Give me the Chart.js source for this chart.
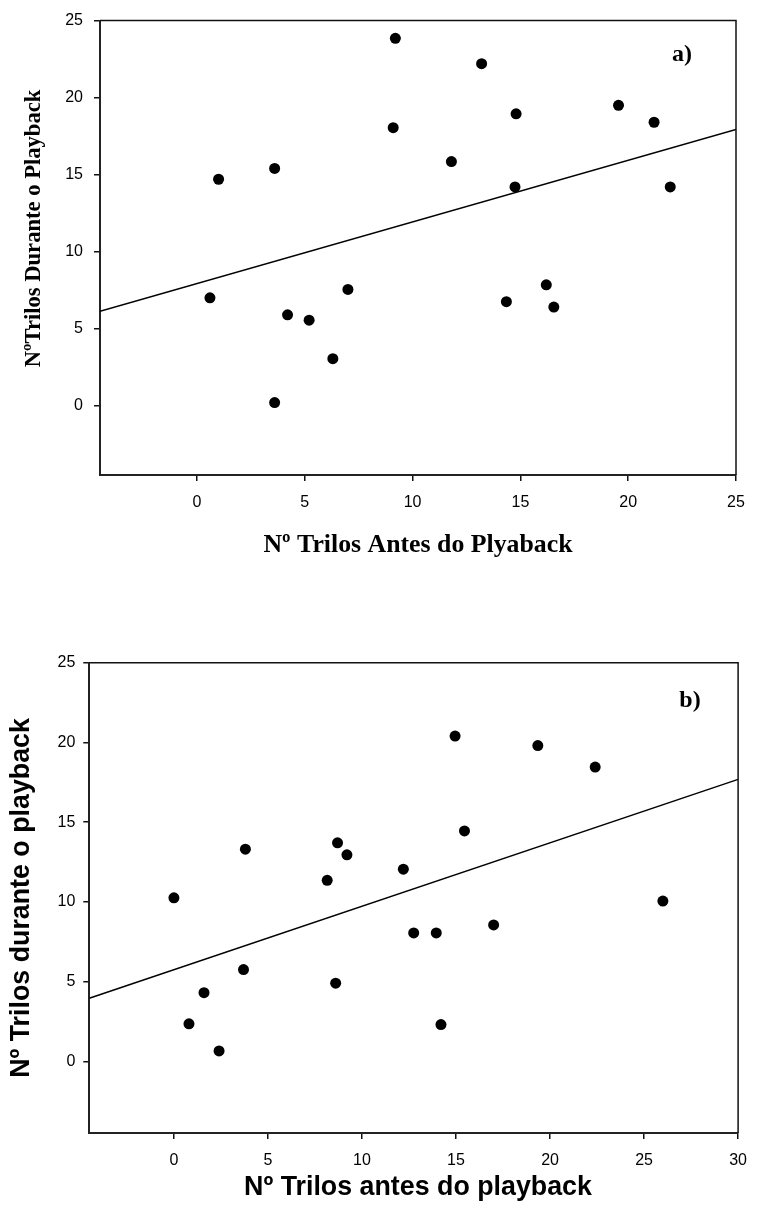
<!DOCTYPE html>
<html>
<head>
<meta charset="utf-8">
<script src="https://cdn.jsdelivr.net/npm/chart.js@4.4.1/dist/chart.umd.min.js"></script>
<style>
  html, body { margin: 0; padding: 0; background: #fff; }
  body { width: 759px; height: 1218px; position: relative; overflow: hidden; }
  canvas { position: absolute; left: 0; }
  #panelA { top: 0; }
  #panelB { top: 560px; }
</style>
</head>
<body>
<canvas id="panelA" width="759" height="560"></canvas>
<canvas id="panelB" width="759" height="658"></canvas>
<script>
// painel a)
const ticksA = [0, 5, 10, 15, 20, 25];
const antesA = [0.6, 1.0, 3.6, 3.6, 4.2, 5.2, 6.3, 7.0, 9.1, 9.2, 11.8, 13.2, 14.35, 14.75, 14.8, 16.2, 16.55, 19.55, 21.2, 21.95];
const duranteA = [7.0, 14.7, 15.4, 0.2, 5.9, 5.55, 3.05, 7.55, 18.05, 23.85, 15.85, 22.2, 6.75, 14.2, 18.95, 7.85, 6.4, 19.5, 18.4, 14.2];
const fitA = [7.93, 0.40]; // intercepto, inclinação

// painel b)
const ticksBx = [0, 5, 10, 15, 20, 25, 30];
const ticksBy = [0, 5, 10, 15, 20, 25];
const antesB = [0.0, 0.8, 1.6, 2.4, 3.7, 3.8, 8.15, 8.6, 8.7, 9.2, 12.2, 12.75, 13.95, 14.2, 14.95, 15.45, 17.0, 19.35, 22.4, 26.0];
const duranteB = [10.25, 2.35, 4.3, 0.65, 5.75, 13.3, 11.35, 4.9, 13.7, 12.95, 12.05, 8.05, 8.05, 2.3, 20.4, 14.45, 8.55, 19.8, 18.45, 10.05];
const fitB = [5.74, 0.398];

// moldura superior / direita
const frame = {
  id: 'frame',
  afterDatasetsDraw(chart) {
    const { ctx, chartArea: a } = chart;
    ctx.save();
    ctx.strokeStyle = '#111';
    ctx.lineWidth = 1.5;
    ctx.beginPath();
    ctx.moveTo(a.left, a.top);
    ctx.lineTo(a.right, a.top);
    ctx.lineTo(a.right, a.bottom);
    ctx.stroke();
    ctx.restore();
  }
};

// textos dos eixos e rótulo do painel
const panelText = {
  id: 'panelText',
  afterDraw(chart, args, opts) {
    const ctx = chart.ctx;
    (opts.items || []).forEach(t => {
      ctx.save();
      ctx.font = t.font;
      ctx.fillStyle = '#000';
      ctx.textAlign = 'center';
      ctx.textBaseline = 'middle';
      ctx.translate(t.x, t.y);
      if (t.rot) ctx.rotate(t.rot);
      ctx.fillText(t.text, 0, 0);
      ctx.restore();
    });
  }
};

function makePanel(id, cfg) {
  const pts = cfg.xs.map((x, i) => ({ x: x, y: cfg.ys[i] }));
  const line = [cfg.xMin, cfg.xMax].map(x => ({ x: x, y: cfg.fit[0] + cfg.fit[1] * x }));
  const axis = (ticks, size, pad, isX) => ({
    type: 'linear',
    min: isX ? cfg.xMin : cfg.yMin,
    max: isX ? cfg.xMax : cfg.yMax,
    afterBuildTicks: s => { s.ticks = ticks.map(v => ({ value: v })); },
    afterFit: s => { if (isX) s.height = size; else s.width = size; },
    grid: { drawOnChartArea: false, drawTicks: true, tickLength: 6, color: '#111', lineWidth: 1.5 },
    border: { display: true, color: '#222', width: 2 },
    ticks: { color: '#000', padding: pad, font: { family: 'Liberation Sans', size: 16 } }
  });
  return new Chart(document.getElementById(id), {
    type: 'scatter',
    data: {
      datasets: [
        { data: pts, pointRadius: 5.5, pointHoverRadius: 5.5, backgroundColor: '#000', borderColor: '#000', borderWidth: 0 },
        { type: 'line', data: line, borderColor: '#000', borderWidth: 1.5, pointRadius: 0, fill: false }
      ]
    },
    options: {
      responsive: false,
      animation: false,
      devicePixelRatio: 1,
      layout: { padding: cfg.padding },
      scales: {
        x: axis(cfg.xTicks, cfg.xHeight, cfg.xPad, true),
        y: axis(cfg.yTicks, cfg.yWidth, cfg.yPad, false)
      },
      plugins: {
        legend: { display: false },
        tooltip: { enabled: false },
        panelText: { items: cfg.texts }
      }
    },
    plugins: [frame, panelText]
  });
}

makePanel('panelA', {
  xs: antesA, ys: duranteA, fit: fitA,
  xMin: -4.5, xMax: 25, yMin: -4.5, yMax: 25,
  xTicks: ticksA, yTicks: ticksA,
  padding: { top: 19.5, left: 0, right: 23, bottom: 0 },
  xHeight: 85, yWidth: 100, xPad: 12, yPad: 11,
  texts: [
    { text: 'Nº Trilos Antes do Plyaback', x: 418, y: 545, font: 'bold 25.8px "Liberation Serif"' },
    { text: 'NºTrilos Durante o Playback', x: 34, y: 228.5, rot: -Math.PI / 2, font: 'bold 22.6px "Liberation Serif"' },
    { text: 'a)', x: 682, y: 55, font: 'bold 24px "Liberation Serif"' }
  ]
});

makePanel('panelB', {
  xs: antesB, ys: duranteB, fit: fitB,
  xMin: -4.5, xMax: 30, yMin: -4.5, yMax: 25,
  xTicks: ticksBx, yTicks: ticksBy,
  padding: { top: 102.7, left: 0, right: 11.7, bottom: 0 },
  xHeight: 85, yWidth: 89.3, xPad: 12, yPad: 8,
  texts: [
    { text: 'Nº Trilos antes do playback', x: 418, y: 628, font: 'bold 26.8px "Liberation Sans"' },
    { text: 'Nº Trilos durante o playback', x: 22, y: 338, rot: -Math.PI / 2, font: 'bold 26.8px "Liberation Sans"' },
    { text: 'b)', x: 690, y: 141, font: 'bold 24px "Liberation Serif"' }
  ]
});
</script>
</body>
</html>
